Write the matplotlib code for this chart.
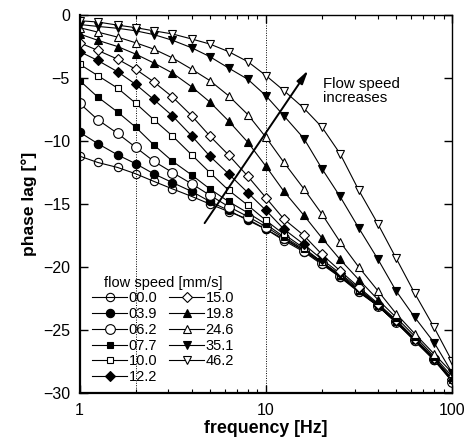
#!/usr/bin/env python3

"""Phase lag vs. frequency for several flow speeds."""

import matplotlib
matplotlib.use("Agg")
import matplotlib.pyplot as plt
from matplotlib.ticker import LogLocator, NullFormatter, FixedLocator

plt.rcParams['font.family'] = ['Liberation Sans', 'DejaVu Sans']

# frequencies [Hz]
freq = [1, 1.25, 1.6, 2, 2.5, 3.15, 4, 5, 6.3, 8, 10,
        12.5, 16, 20, 25, 31.5, 40, 50, 63, 80, 100]

# phase lag [deg] per flow speed [mm/s]
lag_00_0 = [-11.2, -11.7, -12.1, -12.6, -13.2, -13.8, -14.4, -15.0, -15.6, -16.2, -17.0,
            -17.9, -18.8, -19.8, -20.8, -22.0, -23.1, -24.4, -25.9, -27.4, -29.1]
lag_03_9 = [-9.3, -10.2, -11.1, -11.8, -12.6, -13.3, -14.0, -14.8, -15.5, -16.3, -17.0,
            -17.8, -18.7, -19.7, -20.8, -21.9, -23.1, -24.4, -25.8, -27.4, -29.0]
lag_06_2 = [-7.0, -8.3, -9.4, -10.5, -11.6, -12.5, -13.4, -14.3, -15.2, -16.0, -16.8,
            -17.7, -18.7, -19.7, -20.7, -21.9, -23.1, -24.4, -25.8, -27.3, -29.1]
lag_07_7 = [-5.2, -6.5, -7.7, -8.9, -10.3, -11.6, -12.7, -13.8, -14.8, -15.7, -16.6,
            -17.6, -18.6, -19.6, -20.7, -21.9, -23.1, -24.4, -25.8, -27.3, -29.0]
lag_10_0 = [-3.9, -4.8, -5.8, -7.0, -8.3, -9.6, -11.1, -12.5, -13.9, -15.1, -16.3,
            -17.4, -18.5, -19.6, -20.6, -21.8, -23.0, -24.3, -25.8, -27.3, -28.9]
lag_12_2 = [-2.9, -3.6, -4.5, -5.5, -6.7, -8.0, -9.6, -11.2, -12.6, -14.1, -15.5,
            -17.0, -18.2, -19.4, -20.5, -21.7, -23.0, -24.3, -25.7, -27.3, -28.9]
lag_15_0 = [-2.2, -2.8, -3.5, -4.3, -5.3, -6.5, -8.0, -9.6, -11.1, -12.8, -14.5,
            -16.2, -17.5, -19.0, -20.3, -21.6, -22.9, -24.2, -25.7, -27.2, -28.9]
lag_19_8 = [-1.5, -2.0, -2.5, -3.1, -3.8, -4.6, -5.7, -6.9, -8.4, -10.1, -12.0,
            -14.0, -15.9, -17.7, -19.4, -21.0, -22.6, -24.0, -25.5, -27.1, -28.7]
lag_24_6 = [-1.0, -1.35, -1.75, -2.2, -2.7, -3.4, -4.3, -5.2, -6.4, -7.9, -9.7,
            -11.7, -13.8, -15.8, -18.0, -20.0, -21.9, -23.7, -25.3, -26.9, -28.4]
lag_35_1 = [-0.75, -0.9, -1.05, -1.25, -1.55, -2.0, -2.6, -3.3, -4.2, -5.1, -6.4,
            -8.0, -9.8, -12.2, -14.4, -16.9, -19.4, -21.9, -24.0, -26.0, -28.4]
lag_46_2 = [-0.45, -0.55, -0.8, -1.0, -1.25, -1.5, -1.9, -2.3, -2.9, -3.7, -4.8,
            -6.0, -7.4, -8.9, -11.0, -13.9, -16.6, -19.3, -22.1, -24.8, -27.5]

speed_labels = ['00.0', '03.9', '06.2', '07.7', '10.0', '12.2',
                '15.0', '19.8', '24.6', '35.1', '46.2']
series = [lag_00_0, lag_03_9, lag_06_2, lag_07_7, lag_10_0, lag_12_2,
          lag_15_0, lag_19_8, lag_24_6, lag_35_1, lag_46_2]

# marker, face colour, size
styles = [
    ('o', 'none', 6.0),
    ('o', 'black', 6.0),
    ('o', 'white', 7.0),
    ('s', 'black', 5.0),
    ('s', 'white', 5.0),
    ('D', 'black', 5.0),
    ('D', 'white', 5.0),
    ('^', 'black', 6.0),
    ('^', 'white', 6.0),
    ('v', 'black', 6.0),
    ('v', 'white', 6.0),
]

fig = plt.figure(figsize=(4.71, 4.43), dpi=100)
ax = fig.add_axes([0.169, 0.113, 0.791, 0.853])

for lab, vals, (mk, fc, ms) in zip(speed_labels, series, styles):
    ax.plot(freq, vals, color='black', lw=0.8, marker=mk, ms=ms,
            mfc=fc, mec='black', mew=0.8, label=lab)

# reference lines
for xv in (2, 10):
    ax.axvline(xv, color='black', lw=0.7, ls=(0, (1, 1.5)), zorder=0)

ax.set_xscale('log')
ax.set_xlim(1, 100)
ax.set_ylim(-30, 0)
ax.set_xticks([1, 10, 100])
ax.set_xticklabels(['1', '10', '100'])
ax.xaxis.set_minor_locator(LogLocator(base=10, subs=range(2, 10)))
ax.xaxis.set_minor_formatter(NullFormatter())
ax.yaxis.set_major_locator(FixedLocator([0, -5, -10, -15, -20, -25, -30]))

ax.tick_params(which='both', direction='in', top=True, right=True,
               labelsize=11.5, pad=7)
ax.tick_params(which='major', length=6, width=1.0)
ax.tick_params(which='minor', length=3, width=0.8)

for side in ('left', 'bottom'):
    ax.spines[side].set_linewidth(1.6)
for side in ('top', 'right'):
    ax.spines[side].set_linewidth(1.0)

ax.set_xlabel('frequency [Hz]', fontsize=12.8, fontweight='bold', labelpad=2)
ax.set_ylabel('phase lag [°]', fontsize=12.5, fontweight='bold', labelpad=4)

# arrow + note
ax.annotate('', xy=(17.2, -4.2), xytext=(4.6, -16.7),
            arrowprops=dict(arrowstyle='-|>,head_length=0.8,head_width=0.2',
                            color='black', lw=1.4))
ax.text(20.2, -6.0, 'Flow speed\nincreases', fontsize=10.8, va='center',
        ha='left', linespacing=1.0)

# legend: first column 6 entries, second column 5
leg = ax.legend(ncol=2, loc='lower left', bbox_to_anchor=(0.007, -0.004),
                frameon=False, fontsize=10.5, title='flow speed [mm/s]',
                title_fontsize=10.5, handlelength=2.4, handletextpad=0.1,
                columnspacing=0.8, labelspacing=0.12, borderpad=0.2)

fig.savefig('out.png', dpi=100)
